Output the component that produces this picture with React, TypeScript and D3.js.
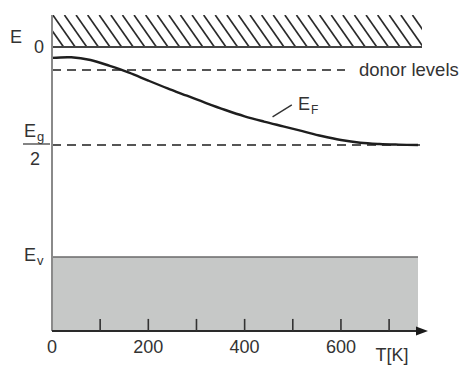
import React from "react";
import * as d3 from "d3";

// Temperature axis (K)
const tMin = 0;
const tMax = 760;
const tickValues = [100, 200, 300, 400, 500, 600, 700];
const tickLabels = [0, 200, 400, 600];

// Energy levels (normalized, conduction band edge = 0, valence band edge = -1)
const conductionEdge = 0;
const conductionTop = 0.152;
const donorLevel = -0.11;
const midGap = -0.467;
const valenceEdge = -1;
const axisBottom = -1.352;

// Fermi level curve E_F(T)
const fermiT = [0, 40, 80, 120, 160, 200, 240, 280, 320, 360, 400, 440, 480, 520, 560, 600, 640, 680, 720, 760];
const fermiE = [-0.052, -0.049, -0.062, -0.09, -0.122, -0.16, -0.197, -0.232, -0.267, -0.3, -0.33, -0.355, -0.378, -0.401, -0.424, -0.443, -0.456, -0.462, -0.465, -0.467];

const W = 463;
const H = 365;
const FONT = "'Liberation Sans', Arial, Helvetica, sans-serif";

export default function App() {
  const x = d3.scaleLinear().domain([tMin, tMax]).range([52, 418]);
  const y = d3.scaleLinear().domain([0, -1]).range([47, 257]);

  const x0 = x(tMin);
  const x1 = x(tMax);
  const yTop = y(conductionTop);
  const yC = y(conductionEdge);
  const yV = y(valenceEdge);
  const yB = y(axisBottom);
  const yD = y(donorLevel);
  const yM = y(midGap);

  const line = d3
    .line<number>()
    .x((_, i) => x(fermiT[i]))
    .y((d) => y(d))
    .curve(d3.curveCatmullRom.alpha(0.5));

  // hatch lines
  const hatchH = yC - yTop;
  const slant = hatchH * 0.7;
  const hatch: number[] = [];
  for (let hx = x0 - slant; hx < x1 + 6; hx += 11.6) hatch.push(hx);

  // E_F leader
  const lx0 = x(458);
  const ly0 = y(-0.333);
  const lx1 = x(498);
  const ly1 = y(-0.276);

  return (
    <svg
      width={W}
      height={H}
      style={{ position: "absolute", left: 0, top: 0, background: "#fff" }}
      fontFamily={FONT}
    >
      <defs>
        <clipPath id="hatchClip">
          <rect x={x0} y={yTop} width={x1 + 4 - x0} height={hatchH} />
        </clipPath>
      </defs>

      {/* conduction band hatch */}
      <g clipPath="url(#hatchClip)">
        {hatch.map((hx, i) => (
          <line key={i} x1={hx} y1={yTop} x2={hx + slant} y2={yC} stroke="#2a2a2a" strokeWidth={1.7} />
        ))}
      </g>
      <line x1={x0} y1={yC} x2={x1 + 4} y2={yC} stroke="#444" strokeWidth={2} />

      {/* valence band */}
      <rect x={x0} y={yV} width={x1 - x0} height={yB - yV} fill="#c6c8c7" />
      <line x1={x0} y1={yV} x2={x1} y2={yV} stroke="#6a6a6a" strokeWidth={1.5} />

      {/* dashed levels */}
      <line x1={x0} y1={yD} x2={345} y2={yD} stroke="#555" strokeWidth={2} strokeDasharray="9 6" />
      <line x1={x0} y1={yM} x2={x1 + 2} y2={yM} stroke="#555" strokeWidth={2} strokeDasharray="9 6" />

      {/* Fermi level */}
      <path d={line(fermiE) || ""} fill="none" stroke="#1e1e1e" strokeWidth={2.4} />

      {/* axes */}
      <line x1={x0} y1={yTop} x2={x0} y2={yB} stroke="#8a8a8a" strokeWidth={2} />
      <line x1={x0} y1={yB} x2={x1} y2={yB} stroke="#2a2a2a" strokeWidth={2} />
      <path d={`M${x1 - 2},${yB - 4.5} L${x1 + 10},${yB} L${x1 - 2},${yB + 4.5} Z`} fill="#1a1a1a" />
      {tickValues.map((t) => (
        <line key={t} x1={x(t)} y1={yB} x2={x(t)} y2={yB - 12} stroke="#333" strokeWidth={1.6} />
      ))}
      {tickLabels.map((t) => (
        <text key={t} x={x(t)} y={yB + 22} textAnchor="middle" fontSize={18} fill="#333">
          {t}
        </text>
      ))}
      <text x={392} y={361} textAnchor="middle" fontSize={18} fill="#333">
        T[K]
      </text>

      {/* left labels */}
      <text x={10} y={43} fontSize={18} fill="#333">E</text>
      <text x={39} y={53} textAnchor="middle" fontSize={18} fill="#333">0</text>

      <text x={24} y={137} fontSize={18} fill="#333">E</text>
      <text x={37} y={141} fontSize={13} fill="#333">g</text>
      <line x1={23} y1={144} x2={50} y2={144} stroke="#333" strokeWidth={1.2} />
      <text x={35} y={165} textAnchor="middle" fontSize={18} fill="#333">2</text>

      <text x={24} y={261} fontSize={18} fill="#333">E</text>
      <text x={37} y={265} fontSize={13} fill="#333">v</text>

      {/* right labels */}
      <text x={359} y={76} fontSize={18.5} fill="#333">donor levels</text>
      <line x1={lx0} y1={ly0} x2={lx1} y2={ly1} stroke="#333" strokeWidth={1.4} />
      <text x={298} y={110} fontSize={18} fill="#333">E</text>
      <text x={311} y={114} fontSize={12} fill="#333">F</text>
    </svg>
  );
}
